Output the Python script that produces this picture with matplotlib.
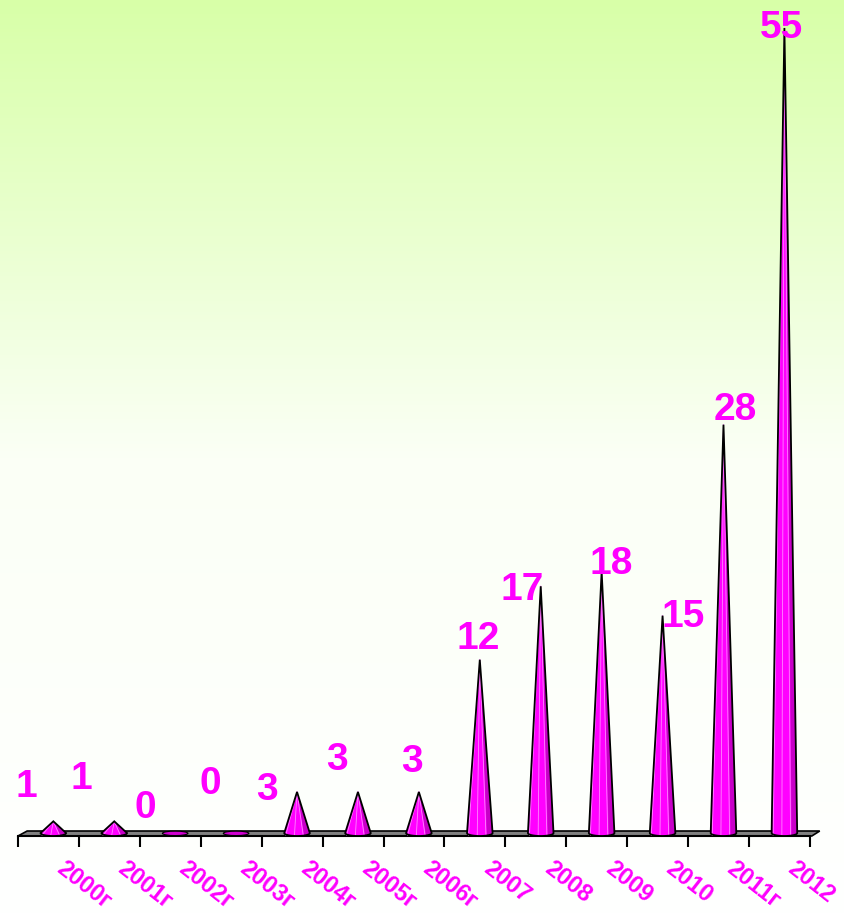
import numpy as np
import matplotlib.pyplot as plt
from matplotlib.patches import Polygon, Ellipse
from matplotlib.colors import LinearSegmentedColormap

plt.rcParams['font.family'] = ['Liberation Sans', 'DejaVu Sans']

years = ['2000г', '2001г', '2002г', '2003г', '2004г', '2005г', '2006г',
         '2007', '2008', '2009', '2010', '2011г', '2012']
counts = [1, 1, 0, 0, 3, 3, 3, 12, 17, 18, 15, 28, 55]

# where the value labels sit relative to the cone tip (pixels), as in the original
label_dx = [-27, -33, -30, -26, -30, -21, -7, -2, -19, 10, 21, 12, -3]
label_dy = [34, 42, 28, 52, 2, 32, 30, 21, -4, 8, -1, 15, 0]

pink = '#ff00ff'

fig = plt.figure(figsize=(8.45, 9.17), dpi=100)

# background gradient
bg = fig.add_axes([0, 0, 1, 1], zorder=-1)
grad = LinearSegmentedColormap.from_list('g', ['#ffffff', '#fbfff6', '#d8ffa8'])
bg.imshow(np.linspace(0, 1, 256).reshape(-1, 1)[::-1], aspect='auto', cmap=grad,
          extent=[0, 1, 0, 1])
bg.axis('off')

ax = fig.add_axes([18 / 845, 81 / 917, 792 / 845, 830 / 917])
ax.patch.set_alpha(0)
ax.set_xlim(0, len(years))
ax.set_ylim(0, 56.5)

# floor slab
floor = Polygon([(0, 0), (0.15, 0.34), (len(years) + 0.16, 0.34), (len(years) + 0.03, 0)],
                closed=True, facecolor='#808080', edgecolor='black', lw=1.2,
                zorder=1, clip_on=False)
ax.add_patch(floor)

w = 0.42
for i, v in enumerate(counts):
    xc = i + 0.58
    if v == 0:
        ax.add_patch(Ellipse((xc, 0.18), w, 0.3, facecolor='#d000d0',
                             edgecolor='black', lw=0.8, zorder=3, clip_on=False))
    else:
        t = np.linspace(np.pi, 2 * np.pi, 30)
        arc = np.column_stack([xc + w / 2 * np.cos(t), 0.2 + 0.2 * np.sin(t)])
        pts = np.vstack([[xc, v], arc])
        ax.add_patch(Polygon(pts, closed=True, facecolor=pink, edgecolor='none',
                             zorder=3, clip_on=False))
        # shading on the right side
        shade = np.array([[xc, v], [xc + w * 0.28, 0.05], [xc + w / 2, 0.2]])
        ax.add_patch(Polygon(shade, closed=True, facecolor='#c800c8',
                             edgecolor='none', zorder=3, clip_on=False))
        for f in (-0.22, -0.05, 0.12):
            ax.plot([xc, xc + f * w * 2], [v, 0.05], color='#ff88ff', lw=0.6,
                    zorder=3, clip_on=False)
        ax.add_patch(Polygon(pts, closed=True, facecolor='none', edgecolor='black',
                             lw=1.3, zorder=4, clip_on=False))
    ax.annotate(str(v), xy=(xc, v), xytext=(label_dx[i], label_dy[i]),
                textcoords='offset pixels', ha='center', va='center',
                fontsize=28, fontweight='bold', color=pink, zorder=6,
                annotation_clip=False)
    ax.annotate(years[i], xy=(i + 0.5, 0), xytext=(18, -21),
                textcoords='offset pixels', ha='left', va='top',
                rotation=-38, rotation_mode='anchor', fontsize=17,
                fontweight='bold', color=pink, annotation_clip=False)

for s in ['top', 'left', 'right']:
    ax.spines[s].set_visible(False)
ax.spines['bottom'].set_linewidth(1.5)
ax.spines['bottom'].set_zorder(2)
ax.set_xticks(range(len(years) + 1))
ax.set_xticklabels([])
ax.tick_params(axis='x', length=8, width=1.5, direction='out')
ax.set_yticks([])

fig.savefig('out.png', dpi=100)
